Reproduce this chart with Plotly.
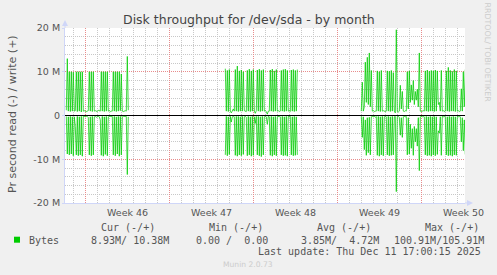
import pandas as pd
import plotly.graph_objects as go

# ---------------- data (2-hour samples, values in M) ----------------
STEP = "2h"
seg_starts = ["2025-11-08 10:00", "2025-11-21 16:00", "2025-12-03 00:00"]

write_seg1 = [1.2, 13.0, 1.0, 10.0, 0.9, 10.0, 1.0, 9.9, 1.0, 1.1,
              10.0, 0.9, 10.0, 1.0, 10.0, 0.8, 10.0, 1.0, 1.1, 1.0,
              0.9, 1.0, 1.1, 10.0, 1.0, 10.0, 0.9, 10.0, 1.0, 1.1,
              1.0, 0.9, 1.2, 1.0, 1.0, 10.0, 1.0, 10.0, 0.9, 10.0,
              1.0, 10.0, 1.0, 1.1, 0.9, 1.0, 1.0, 10.0, 1.0, 10.0,
              0.9, 10.0, 1.0, 10.0, 1.1, 9.5, 1.0, 0.9, 1.0, 1.1,
              1.0, 13.5, 1.2]
read_seg1 = [0.2, 8.8, 0.3, 9.0, 0.2, 8.8, 0.3, 9.2, 0.3, 2.5,
             9.0, 0.2, 9.2, 0.3, 9.0, 0.2, 9.3, 0.2, 0.2, 0.3,
             0.2, 0.2, 0.5, 9.0, 0.3, 9.2, 0.2, 9.0, 0.3, 0.2,
             0.4, 0.2, 0.2, 0.3, 1.0, 9.1, 0.2, 9.3, 0.3, 8.9,
             0.2, 9.2, 0.3, 0.2, 0.2, 0.3, 0.2, 9.0, 0.2, 9.2,
             0.3, 8.8, 0.2, 9.3, 0.2, 9.0, 0.3, 0.2, 0.2, 0.3,
             0.2, 13.5, 0.3]

write_seg2 = [10.7, 1.0, 10.3, 0.9, 10.5, 1.0, 0.6, 1.0, 1.5, 1.0,
              10.5, 1.0, 11.3, 0.9, 10.2, 1.0, 10.4, 1.0, 10.0, 1.1,
              1.0, 0.9, 10.3, 1.0, 10.6, 0.9, 10.2, 1.0, 10.5, 1.0,
              0.5, 1.1, 10.4, 1.0, 10.6, 0.9, 10.3, 1.0, 10.5, 1.0,
              1.1, 0.9, 0.3, 1.0, 1.0, 10.4, 1.0, 10.6, 0.9, 10.2,
              1.0, 10.5, 1.0, 1.1, 0.9, 1.0, 10.3, 1.0, 10.5, 0.9,
              10.6, 1.0, 10.3, 1.0, 1.1, 0.9, 10.4, 1.0, 10.5, 0.9,
              10.3, 1.0, 10.5]
read_seg2 = [9.0, 0.2, 9.2, 0.3, 8.9, 0.2, 1.5, 0.3, 0.2, 0.3,
             9.1, 0.2, 9.3, 0.2, 9.0, 0.3, 9.2, 0.2, 8.9, 0.3,
             0.2, 0.4, 9.2, 0.2, 9.0, 0.3, 9.3, 0.2, 9.1, 0.3,
             1.8, 0.2, 9.0, 0.2, 9.2, 0.3, 9.4, 0.2, 9.0, 0.3,
             0.2, 0.3, 2.0, 0.2, 0.3, 9.1, 0.2, 9.3, 0.3, 9.0,
             0.2, 9.2, 0.3, 0.2, 0.2, 0.3, 9.0, 0.2, 9.2, 0.3,
             9.1, 0.2, 9.3, 0.2, 0.3, 0.2, 9.0, 0.3, 9.2, 0.2,
             9.1, 0.3, 9.0]

write_seg3 = [1.0, 7.6, 1.0, 2.0, 12.2, 3.0, 13.3, 2.5, 14.3, 2.0,
              10.3, 1.0, 1.1, 0.9, 1.0, 1.0, 10.2, 1.0, 10.0, 0.9,
              10.3, 1.0, 1.1, 1.0, 0.9, 1.0, 10.2, 1.0, 10.1, 0.9,
              10.3, 1.0, 9.8, 1.0, 0.6, 19.6, 0.9, 0.8, 1.0, 6.9,
              1.5, 5.5, 1.0, 0.9, 1.1, 1.0, 10.0, 1.5, 10.2, 3.0,
              7.0, 3.5, 8.0, 2.5, 5.5, 3.5, 6.0, 2.0, 14.3, 1.0,
              0.9, 1.0, 1.1, 1.0, 10.2, 1.0, 10.4, 0.9, 10.1, 1.0,
              10.3, 1.0, 10.2, 0.9, 10.4, 1.0, 10.2, 2.5, 3.0, 1.0,
              10.3, 1.0, 1.1, 0.9, 1.0, 10.2, 1.0, 11.0, 0.9, 10.3,
              1.0, 10.1, 1.0, 10.5, 0.9, 10.2, 1.0, 1.1, 0.9, 1.0,
              6.1, 1.0, 10.0, 2.0, 10.5]
read_seg3 = [0.2, 5.0, 0.3, 7.8, 1.0, 9.1, 0.5, 8.5, 0.4, 9.0,
             0.3, 0.2, 0.3, 0.2, 0.4, 0.2, 9.1, 0.2, 9.3, 0.3,
             9.0, 0.2, 9.2, 0.3, 0.2, 0.3, 9.0, 0.2, 9.2, 0.3,
             9.1, 0.2, 9.0, 0.3, 0.2, 17.4, 0.3, 0.2, 0.4, 4.5,
             0.5, 5.0, 0.3, 0.2, 0.3, 0.2, 9.0, 0.5, 8.8, 2.0,
             7.5, 3.0, 9.1, 2.5, 6.0, 3.0, 7.0, 0.5, 12.6, 0.3,
             0.2, 0.3, 0.2, 0.3, 9.0, 0.2, 9.2, 0.3, 9.1, 0.2,
             9.3, 0.3, 9.0, 0.2, 9.2, 0.3, 8.9, 3.5, 4.0, 0.3,
             9.1, 0.2, 0.3, 0.2, 0.3, 9.0, 0.3, 9.2, 0.2, 9.1,
             0.3, 9.3, 0.2, 9.0, 0.3, 9.1, 0.2, 0.3, 0.2, 0.3,
             6.0, 0.5, 8.0, 1.0, 8.9]

week_starts = ["2025-11-10", "2025-11-17", "2025-11-24", "2025-12-01", "2025-12-08"]
week_label_pos = ["2025-11-13 12:00", "2025-11-20 12:00", "2025-11-27 12:00",
                  "2025-12-04 12:00", "2025-12-11 12:00"]
week_labels = ["Week 46", "Week 47", "Week 48", "Week 49", "Week 50"]
y_ticks = [-20, -10, 0, 10, 20]
y_labels = ["-20 M", "-10 M", "0", "10 M", "20 M"]
x_range = ["2025-11-08 07:24", "2025-12-11 15:24"]

legend_headers = ["Cur (-/+)", "Min (-/+)", "Avg (-/+)", "Max (-/+)"]
legend_values = ["8.93M/ 10.38M", "0.00 /  0.00", "3.85M/  4.72M", "100.91M/105.91M"]
series_name = "Bytes"
last_update = "Last update: Thu Dec 11 17:00:15 2025"

GREEN = "#00CC00"
AXIS = "#CFD6F8"

# ---------------- geometry helpers ----------------
W, H = 497, 275
L, R, T, B = 65, 32, 28, 72
PW, PH = W - L - R, H - T - B


def px(x):
    return (x - L) / PW


def py(y):
    return (H - B - y) / PH


def build(segs, sign):
    xs, ys = [], []
    for start, vals in zip(seg_starts, segs):
        t = pd.date_range(start, periods=len(vals), freq=STEP)
        xs += list(t.strftime("%Y-%m-%d %H:%M")) + [None]
        ys += [sign * v for v in vals] + [None]
    return xs, ys


wx, wy = build([write_seg1, write_seg2, write_seg3], 1)
rx, ry = build([read_seg1, read_seg2, read_seg3], -1)

fig = go.Figure()
fig.add_trace(go.Scatter(x=rx, y=ry, mode="lines", line=dict(color=GREEN, width=0.75),
                         connectgaps=False, hoverinfo="skip"))
fig.add_trace(go.Scatter(x=wx, y=wy, mode="lines", line=dict(color=GREEN, width=0.75),
                         connectgaps=False, hoverinfo="skip"))

MINOR = "#C8C8C8"
MAJOR = "rgb(232,140,140)"
DASH = "1px,1px"

fig.update_layout(
    width=W, height=H,
    margin=dict(l=L, r=R, t=T, b=B, pad=0),
    paper_bgcolor="#F0F0F0", plot_bgcolor="#FFFFFF",
    showlegend=False,
    font=dict(family="DejaVu Sans", size=10, color="#555555"),
    xaxis=dict(
        type="date", range=x_range, tickmode="array", tickvals=week_starts,
        showticklabels=False, ticks="", showgrid=True, gridcolor=MAJOR,
        griddash=DASH, gridwidth=1, zeroline=False,
        showline=True, linecolor=AXIS, linewidth=1,
        minor=dict(dtick=86400000, tick0="2025-11-08", showgrid=True,
                   gridcolor=MINOR, griddash=DASH, gridwidth=1),
    ),
    yaxis=dict(
        range=[-20, 20], tickmode="array", tickvals=y_ticks, ticktext=y_labels,
        showgrid=True, gridcolor=MAJOR, griddash=DASH, gridwidth=1,
        zeroline=True, zerolinecolor="#000000", zerolinewidth=1,
        showline=True, linecolor=AXIS, linewidth=1,
        ticks="outside", ticklen=2, tickcolor=AXIS,
        tickfont=dict(family="DejaVu Sans", size=9.5, color="#555555"),
        minor=dict(dtick=2, showgrid=True, gridcolor=MINOR, griddash=DASH, gridwidth=1),
    ),
)

ann = []
# title
ann.append(dict(text="Disk throughput for /dev/sda - by month", xref="paper", yref="paper",
                x=px(248.5), y=py(19), xanchor="center", yanchor="middle", showarrow=False,
                font=dict(family="DejaVu Sans", size=12.5, color="#444444")))
# y title
ann.append(dict(text="Pr second read (-) / write (+)", xref="paper", yref="paper",
                x=px(12), y=py(114), xanchor="center", yanchor="middle", textangle=-90,
                showarrow=False, font=dict(family="DejaVu Sans", size=11, color="#555555")))
# rrdtool credit
ann.append(dict(text="RRDTOOL/ TOBI OETIKER", xref="paper", yref="paper",
                x=px(487.5), y=py(53), xanchor="center", yanchor="middle", textangle=90,
                showarrow=False, font=dict(family="DejaVu Sans", size=7.9, color="#CCCCCC")))
# week labels
for pos, lab in zip(week_label_pos, week_labels):
    ann.append(dict(text=lab, xref="x", yref="paper", x=pos, y=py(212.7),
                    xanchor="center", yanchor="middle", showarrow=False,
                    font=dict(family="DejaVu Sans", size=9.5, color="#555555")))
MONO = dict(family="DejaVu Sans Mono", size=10, color="#555555")
for xl, txt in zip([98.7, 206.7, 315, 423], legend_headers):
    ann.append(dict(text=txt.replace(" ", "&nbsp;"), xref="paper", yref="paper", x=px(xl), y=py(227.7),
                    xanchor="left", yanchor="middle", showarrow=False, font=MONO))
ann.append(dict(text=series_name, xref="paper", yref="paper", x=px(26.5), y=py(240),
                xanchor="left", yanchor="middle", showarrow=False, font=MONO))
for xl, txt in zip([89.3, 194.3, 299.3, 392.3], legend_values):
    ann.append(dict(text=txt.replace(" ", "&nbsp;"), xref="paper", yref="paper", x=px(xl), y=py(240),
                    xanchor="left", yanchor="middle", showarrow=False, font=MONO))
ann.append(dict(text=last_update.replace(" ", "&nbsp;"), xref="paper", yref="paper", x=px(483.5), y=py(251.7),
                xanchor="right", yanchor="middle", showarrow=False, font=MONO))
ann.append(dict(text="Munin 2.0.73", xref="paper", yref="paper", x=px(248), y=py(264),
                xanchor="center", yanchor="middle", showarrow=False,
                font=dict(family="DejaVu Sans", size=7.6, color="#CCCCCC")))
fig.update_layout(annotations=ann)

shapes = []
# legend swatch
shapes.append(dict(type="rect", xref="paper", yref="paper", x0=px(14), x1=px(20),
                   y0=py(242.7), y1=py(236.7), fillcolor=GREEN, line=dict(width=0)))
# axis arrows
shapes.append(dict(type="line", xref="paper", yref="paper", x0=px(65), x1=px(65),
                   y0=py(28), y1=py(22), line=dict(color=AXIS, width=1)))
shapes.append(dict(type="path", xref="paper", yref="paper",
                   path=f"M {px(62)} {py(26)} L {px(65)} {py(20)} L {px(68)} {py(26)} Z",
                   fillcolor=AXIS, line=dict(width=0)))
shapes.append(dict(type="line", xref="paper", yref="paper", x0=px(465), x1=px(470),
                   y0=py(203), y1=py(203), line=dict(color=AXIS, width=1)))
shapes.append(dict(type="path", xref="paper", yref="paper",
                   path=f"M {px(467)} {py(200)} L {px(473)} {py(203)} L {px(467)} {py(206)} Z",
                   fillcolor=AXIS, line=dict(width=0)))
fig.update_layout(shapes=shapes)

fig.write_html("out.html")
